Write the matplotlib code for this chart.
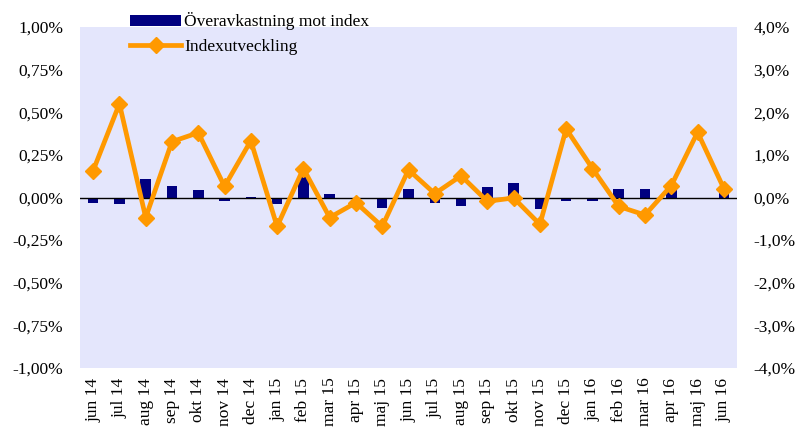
import numpy as np
import matplotlib
matplotlib.use("Agg")
import matplotlib.pyplot as plt
from matplotlib.ticker import FuncFormatter, MultipleLocator

plt.rcParams['font.family'] = ['Liberation Serif', 'DejaVu Serif']
plt.rcParams['font.size'] = 12.5

# månader jun 14 - jun 16
manader = ['jun 14', 'jul 14', 'aug 14', 'sep 14', 'okt 14', 'nov 14', 'dec 14',
           'jan 15', 'feb 15', 'mar 15', 'apr 15', 'maj 15', 'jun 15', 'jul 15',
           'aug 15', 'sep 15', 'okt 15', 'nov 15', 'dec 15',
           'jan 16', 'feb 16', 'mar 16', 'apr 16', 'maj 16', 'jun 16']

# överavkastning mot index (%), vänster axel
overavkastning = [-0.03, -0.04, 0.11, 0.065, 0.045, -0.02, 0.005, -0.04, 0.12, 0.02,
                  -0.01, -0.06, 0.05, -0.03, -0.05, 0.06, 0.085, -0.065, -0.02,
                  -0.02, 0.05, 0.05, 0.055, -0.008, 0.07]

# indexutveckling (%), höger axel
indexutveckling = [0.63, 2.20, -0.47, 1.31, 1.52, 0.26, 1.33, -0.68, 0.68, -0.47,
                   -0.12, -0.68, 0.65, 0.09, 0.51, -0.09, -0.01, -0.63, 1.61,
                   0.68, -0.21, -0.41, 0.28, 1.53, 0.21]

NAVY = '#000080'
ORANGE = '#FF9900'
BG = '#E4E6FC'

x = np.arange(len(manader))

fig = plt.figure(figsize=(8.02, 4.29), dpi=100)
ax = fig.add_axes([80 / 802, 61 / 429, 657 / 802, 341 / 429])
ax.set_facecolor(BG)

staplar = ax.bar(x, overavkastning, width=0.4, color=NAVY, label='Överavkastning mot index')
ax.axhline(0, color='black', lw=1, zorder=3)
ax.set_xlim(-0.5, len(manader) - 0.5)
ax.set_ylim(-1.0, 1.0)
ax.yaxis.set_major_locator(MultipleLocator(0.25))
ax.yaxis.set_major_formatter(FuncFormatter(lambda v, p: f'{v:.2f}%'.replace('.', ',')))
ax.set_xticks(x)
ax.set_xticklabels(manader, rotation=90)
ax.tick_params(axis='x', length=0, pad=7)
ax.tick_params(axis='y', length=0, pad=12)
for s in ax.spines.values():
    s.set_visible(False)

ax2 = ax.twinx()
linje, = ax2.plot(x, indexutveckling, color=ORANGE, lw=3.4, marker='D', markersize=8,
                  label='Indexutveckling')
ax2.set_ylim(-4.0, 4.0)
ax2.yaxis.set_major_locator(MultipleLocator(1.0))
ax2.yaxis.set_major_formatter(FuncFormatter(lambda v, p: f'{v:.1f}%'.replace('.', ',')))
ax2.tick_params(axis='y', length=0, pad=12)
for s in ax2.spines.values():
    s.set_visible(False)

fig.legend([staplar, linje], ['Överavkastning mot index', 'Indexutveckling'],
           loc='upper left', bbox_to_anchor=(127 / 802, 1 - 9 / 429), frameon=False,
           numpoints=1, handlelength=2.9, handletextpad=0.2, labelspacing=0.5,
           handleheight=0.6, borderaxespad=0, borderpad=0.2, fontsize=12.5)

fig.savefig('out.png', dpi=100)
